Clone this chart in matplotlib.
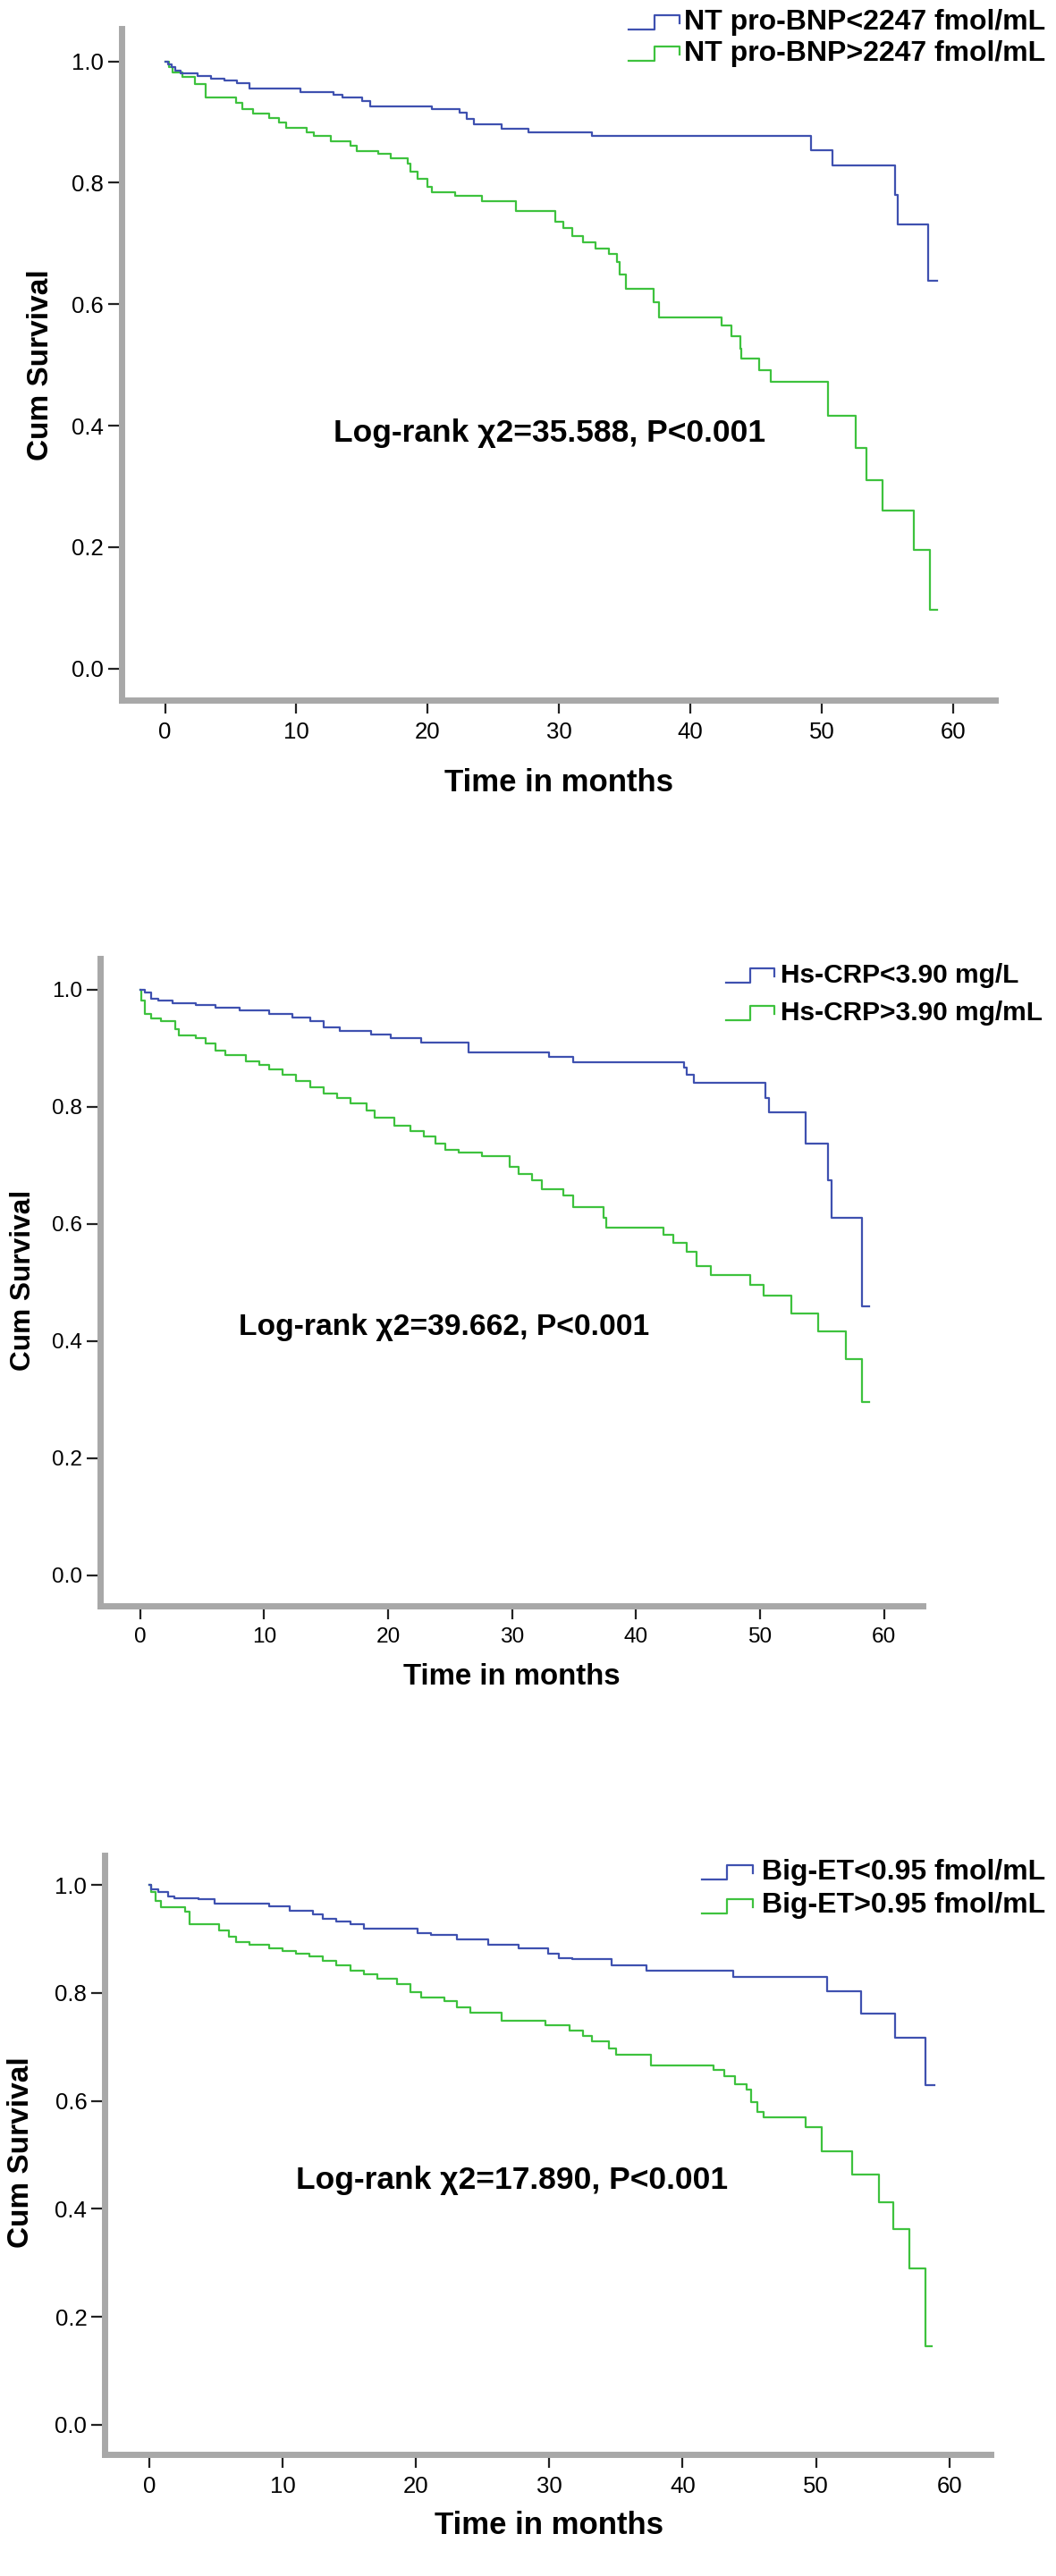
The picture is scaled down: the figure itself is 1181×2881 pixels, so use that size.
import matplotlib
matplotlib.use("Agg")
import matplotlib.pyplot as plt
from matplotlib.lines import Line2D

plt.rcParams['font.family'] = ['Liberation Sans', 'DejaVu Sans']

W, H = 1181, 2881
BLUE = '#3f51b0'
GREEN = '#3ec23e'

# ---- panel 1: NT pro-BNP ----
bnp_lo_t = [0, 0.2, 0.5, 0.8, 1.2, 2.5, 3.5, 4.5, 5.5, 6.4, 10.3, 12.8, 13.5, 15.0, 15.6,
            20.3, 22.4, 23.0, 23.5, 25.6, 27.7, 32.5, 49.2, 50.8, 55.6, 55.8, 58.1, 58.8]
bnp_lo_s = [1.0, 0.995, 0.99, 0.985, 0.98, 0.976, 0.972, 0.968, 0.964, 0.956, 0.949, 0.945, 0.940, 0.934, 0.926,
            0.921, 0.915, 0.905, 0.896, 0.889, 0.883, 0.877, 0.854, 0.828, 0.780, 0.731, 0.638, 0.638]
bnp_hi_t = [0, 0.3, 0.6, 1.3, 2.3, 3.1, 5.4, 5.9, 6.7, 7.9, 8.7, 9.2, 10.8, 11.3, 12.6, 14.1, 14.6,
            16.2, 17.2, 18.5, 18.7, 19.2, 20.0, 20.3, 22.1, 24.1, 26.7, 29.7, 30.3, 31.0, 31.8, 32.8,
            33.8, 34.4, 34.6, 35.1, 37.2, 37.6, 42.4, 43.1, 43.8, 43.9, 45.2, 46.1, 50.5, 52.6, 53.4,
            54.6, 57.0, 58.2, 58.8]
bnp_hi_s = [1.0, 0.99, 0.982, 0.975, 0.962, 0.941, 0.932, 0.922, 0.914, 0.907, 0.899, 0.890, 0.883, 0.877, 0.869, 0.861, 0.852,
            0.848, 0.841, 0.831, 0.818, 0.806, 0.793, 0.784, 0.778, 0.770, 0.753, 0.736, 0.725, 0.713, 0.702, 0.691,
            0.683, 0.670, 0.649, 0.626, 0.603, 0.579, 0.565, 0.548, 0.527, 0.510, 0.491, 0.472, 0.417, 0.363, 0.311,
            0.260, 0.195, 0.097, 0.097]

# ---- panel 2: Hs-CRP ----
crp_lo_t = [0, 0.4, 0.9, 1.5, 2.6, 4.5, 6.1, 8.0, 10.4, 12.3, 13.7, 14.8, 16.1, 18.6, 20.2, 22.7,
            26.5, 33.0, 34.9, 43.9, 44.1, 44.7, 50.4, 50.7, 53.7, 55.5, 55.8, 58.2, 58.8]
crp_lo_s = [1.0, 0.995, 0.985, 0.981, 0.976, 0.974, 0.969, 0.964, 0.958, 0.953, 0.946, 0.936, 0.930, 0.924, 0.917, 0.909,
            0.893, 0.885, 0.876, 0.867, 0.854, 0.841, 0.815, 0.791, 0.737, 0.674, 0.611, 0.460, 0.460]
crp_hi_t = [0, 0.1, 0.4, 0.9, 1.7, 2.8, 3.1, 4.5, 5.3, 6.1, 6.9, 8.5, 9.6, 10.4, 11.5, 12.6, 13.7,
            14.8, 15.9, 17.0, 18.3, 18.9, 20.5, 21.8, 22.9, 23.8, 24.6, 25.7, 27.6, 29.8, 30.5, 31.6,
            32.4, 34.1, 34.9, 37.4, 37.6, 42.2, 43.0, 44.1, 44.9, 46.0, 49.2, 50.3, 52.5, 54.7, 56.9,
            58.2, 58.8]
crp_hi_s = [1.0, 0.981, 0.958, 0.951, 0.946, 0.932, 0.922, 0.917, 0.908, 0.896, 0.888, 0.878, 0.871, 0.864, 0.854, 0.844, 0.833,
            0.822, 0.815, 0.805, 0.794, 0.781, 0.768, 0.759, 0.749, 0.737, 0.727, 0.722, 0.716, 0.698, 0.685, 0.674,
            0.659, 0.649, 0.628, 0.611, 0.594, 0.581, 0.567, 0.552, 0.528, 0.513, 0.496, 0.477, 0.447, 0.416, 0.370,
            0.296, 0.296]

# ---- panel 3: Big-ET ----
et_lo_t = [0, 0.15, 0.7, 1.4, 1.9, 3.7, 4.9, 9.0, 10.5, 12.3, 13.0, 14.0, 15.1, 16.1, 20.1, 21.1,
           23.1, 25.4, 27.7, 29.9, 30.7, 31.7, 34.7, 37.3, 43.8, 50.8, 53.4, 55.9, 58.2, 58.9]
et_lo_s = [1.0, 0.992, 0.987, 0.979, 0.976, 0.973, 0.966, 0.961, 0.952, 0.945, 0.938, 0.932, 0.927, 0.919, 0.911, 0.907,
           0.899, 0.890, 0.883, 0.873, 0.865, 0.862, 0.852, 0.842, 0.829, 0.803, 0.762, 0.717, 0.629, 0.629]
et_hi_t = [0, 0.15, 0.5, 0.9, 2.7, 3.0, 5.2, 6.0, 6.5, 7.5, 9.0, 10.0, 11.0, 12.0, 13.0, 14.0, 15.1,
           16.1, 17.1, 18.6, 19.6, 20.4, 22.1, 23.1, 24.1, 26.4, 29.7, 31.5, 32.5, 33.2, 34.5, 35.0,
           37.6, 42.3, 43.1, 43.9, 44.8, 45.1, 45.6, 46.1, 49.2, 50.4, 52.7, 54.7, 55.8, 57.0, 58.2, 58.7]
et_hi_s = [1.0, 0.987, 0.971, 0.959, 0.950, 0.927, 0.916, 0.904, 0.895, 0.890, 0.883, 0.878, 0.873, 0.867, 0.859, 0.852, 0.842,
           0.834, 0.826, 0.816, 0.802, 0.792, 0.785, 0.774, 0.764, 0.748, 0.740, 0.731, 0.720, 0.710, 0.697, 0.686,
           0.666, 0.658, 0.645, 0.631, 0.621, 0.598, 0.580, 0.569, 0.552, 0.507, 0.464, 0.412, 0.362, 0.290, 0.146, 0.146]

xticks = [0, 10, 20, 30, 40, 50, 60]
yticks = [0.0, 0.2, 0.4, 0.6, 0.8, 1.0]

panels = [
    dict(box=(135.5, 32, 1113, 783), xlim=(-3.34, 63.2), ylim=(-0.052, 1.054),
         lo=(bnp_lo_t, bnp_lo_s), hi=(bnp_hi_t, bnp_hi_s),
         labels=["NT pro-BNP<2247 fmol/mL", "NT pro-BNP>2247 fmol/mL"],
         leg=(703, 760, 765, 25, 60), legfs=23,
         note="Log-rank \u03c72=35.588, P<0.001", note_xy=(29.3, 0.387), fs=1.0,
         ylab=(45, 408), xlab=(625, 875)),
    dict(box=(111.5, 1072, 1031.6, 1796), xlim=(-3.26, 63.1), ylim=(-0.052, 1.053),
         lo=(crp_lo_t, crp_lo_s), hi=(crp_hi_t, crp_hi_s),
         labels=["Hs-CRP<3.90 mg/L", "Hs-CRP>3.90 mg/mL"],
         leg=(812, 866, 873, 1091, 1133), legfs=21.5,
         note="Log-rank \u03c72=39.662, P<0.001", note_xy=(24.5, 0.423), fs=0.95,
         ylab=(26, 1432), xlab=(572, 1876)),
    dict(box=(116.7, 2075, 1108, 2745), xlim=(-3.37, 63.1), ylim=(-0.055, 1.055),
         lo=(et_lo_t, et_lo_s), hi=(et_hi_t, et_hi_s),
         labels=["Big-ET<0.95 fmol/mL", "Big-ET>0.95 fmol/mL"],
         leg=(785, 842, 852, 2094, 2131.5), legfs=23,
         note="Log-rank \u03c72=17.890, P<0.001", note_xy=(27.2, 0.452), fs=1.0,
         ylab=(24, 2407), xlab=(614, 2825)),
]

fig = plt.figure(figsize=(W / 100, H / 100), dpi=100)


def fx(px):
    return px / W


def fy(py):
    return 1 - py / H


for p in panels:
    x0, y0, x1, y1 = p['box']
    ax = fig.add_axes([fx(x0), fy(y1), (x1 - x0) / W, (y1 - y0) / H])
    ax.step(p['hi'][0], p['hi'][1], where='post', color=GREEN, lw=1.6)
    ax.step(p['lo'][0], p['lo'][1], where='post', color=BLUE, lw=1.6)
    ax.set_xlim(*p['xlim'])
    ax.set_ylim(*p['ylim'])
    ax.set_xticks(xticks)
    ax.set_yticks(yticks)
    ax.set_yticklabels(['%.1f' % v for v in yticks])
    s = p['fs']
    ax.tick_params(axis='both', labelsize=18.5 * s, width=1.6, length=11, color='#222222')
    ax.tick_params(axis='x', pad=6)
    ax.tick_params(axis='y', pad=3)
    for side in ['top', 'right']:
        ax.spines[side].set_visible(False)
    for side in ['left', 'bottom']:
        ax.spines[side].set_linewidth(5)
        ax.spines[side].set_color('#a8a8a8')
    ax.plot([0, 0], [0, 1], transform=ax.transAxes, color='#333333', lw=1.3, clip_on=False)
    ax.plot([0, 1], [0, 0], transform=ax.transAxes, color='#333333', lw=1.3, clip_on=False)

    ax.text(p['note_xy'][0], p['note_xy'][1], p['note'], ha='center', va='center',
            fontsize=25.5 * s, fontweight='bold')
    fig.text(fx(p['ylab'][0]), fy(p['ylab'][1]), 'Cum Survival', rotation=90,
             ha='center', va='center', fontsize=24 * s, fontweight='bold')
    fig.text(fx(p['xlab'][0]), fy(p['xlab'][1]), 'Time in months',
             ha='center', va='center', fontsize=25 * s, fontweight='bold')

    # legend with step-shaped keys
    sx0, sx1, tx, r1, r2 = p['leg']
    for row, col, lab in [(r1, BLUE, p['labels'][0]), (r2, GREEN, p['labels'][1])]:
        mid = (sx0 + sx1) / 2
        xs = [sx0, mid, mid, sx1, sx1]
        ys = [row + 8, row + 8, row - 8, row - 8, row + 1]
        fig.add_artist(Line2D([fx(v) for v in xs], [fy(v) for v in ys],
                              transform=fig.transFigure, color=col, lw=1.6))
        fig.text(fx(tx), fy(row), lab, ha='left', va='center',
                 fontsize=p['legfs'], fontweight='bold')

fig.savefig('out.png', dpi=100, facecolor='white')
